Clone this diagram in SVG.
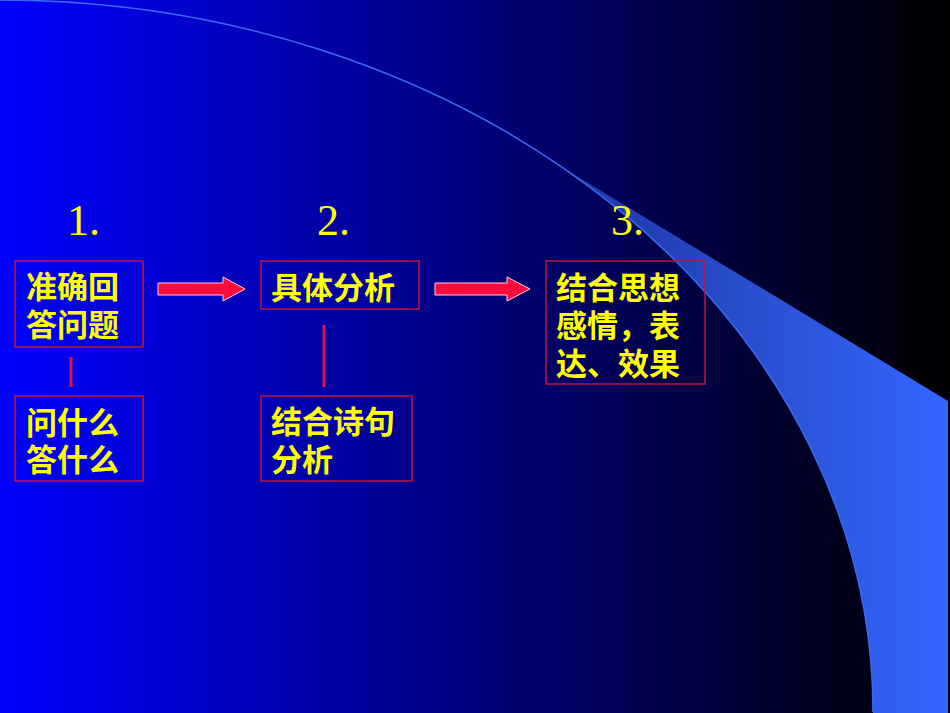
<svg xmlns="http://www.w3.org/2000/svg" width="950" height="713" viewBox="0 0 950 713">
<defs>
<linearGradient id="bg" x1="0" y1="0" x2="950" y2="0" gradientUnits="userSpaceOnUse">
<stop offset="0" stop-color="#0000ff"/>
<stop offset="0.55" stop-color="#000070"/>
<stop offset="1" stop-color="#000000"/>
</linearGradient>
<linearGradient id="wedge" x1="560" y1="0" x2="948" y2="0" gradientUnits="userSpaceOnUse">
<stop offset="0" stop-color="#1c34a0"/>
<stop offset="0.5" stop-color="#2a4fd0"/>
<stop offset="1" stop-color="#3366ff"/>
</linearGradient>
<style>
.num{font-family:"Liberation Serif","Times New Roman",serif;font-size:44px;fill:#ffff00}
.lbl{font-family:"Noto Sans CJK SC","Noto Sans CJK JP",sans-serif;font-size:31px;font-weight:bold;fill:#ffff00}
.box{fill:none;stroke:#c0143c;stroke-width:1.5}
.link{stroke:#e0104a;stroke-width:3}
.arrow{fill:#ff0a3a;stroke:#ffd0e0;stroke-width:1}
</style>
</defs>
<rect x="0" y="0" width="950" height="713" fill="url(#bg)"/>
<path d="M560,166 L948,401 L948,713 L873,713 A873,712 0 0 0 560,166 Z" fill="url(#wedge)"/>
<path d="M0,0 A873,712 0 0 1 873,712" fill="none" stroke="#3a68f0" stroke-width="1.5"/>

<g id="num1"><text class="num" x="67" y="235">1.</text></g>
<g id="num2"><text class="num" x="317" y="235">2.</text></g>
<g id="num3"><text class="num" x="611" y="235">3.</text></g>

<g id="n1">
<rect class="box" x="15" y="261" width="128" height="86"/>
<text class="lbl" x="26" y="298">准确回</text>
<text class="lbl" x="26" y="336">答问题</text>
</g>
<g id="n1b">
<rect class="box" x="15" y="396" width="128" height="85"/>
<text class="lbl" x="26" y="434">问什么</text>
<text class="lbl" x="26" y="471">答什么</text>
</g>
<g id="n2">
<rect class="box" x="261" y="261" width="158" height="48"/>
<text class="lbl" x="271" y="299">具体分析</text>
</g>
<g id="n2b">
<rect class="box" x="261" y="396" width="151" height="85"/>
<text class="lbl" x="271" y="433">结合诗句</text>
<text class="lbl" x="271" y="471">分析</text>
</g>
<g id="n3">
<rect class="box" x="546" y="261" width="159" height="123"/>
<text class="lbl" x="556" y="299">结合思想</text>
<text class="lbl" x="556" y="337">感情，表</text>
<text class="lbl" x="556" y="375">达、效果</text>
</g>

<g id="connectors">
<line class="link" x1="71" y1="357" x2="71" y2="387"/>
<line class="link" x1="324" y1="325" x2="324" y2="387"/>
<path class="arrow" d="M158,283 L223,283 L223,277 L245,289 L223,301 L223,295 L158,295 Z"/>
<path class="arrow" d="M435,283 L507,283 L507,277 L530,289 L507,301 L507,295 L435,295 Z"/>
</g>
</svg>
